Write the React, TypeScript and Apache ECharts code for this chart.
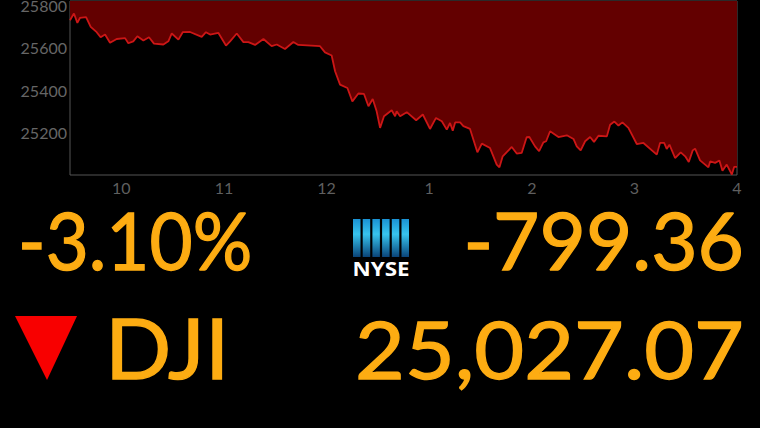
import React, { useEffect, useRef } from "react";
import * as echarts from "echarts";

const minutes = [570,572.3,574.3,575.8,579.4,582.1,585.6,587.9,590.5,593.4,597.3,602.2,604.1,607,609.4,612.9,616.2,619.1,624.6,627.5,629.5,633.4,635.9,640.2,647,649.5,651.9,656.7,661.2,663.6,667.5,671.4,674.3,678.2,683.1,687.9,690.9,695.7,700.6,703.5,716.2,719.1,723,725,727.9,732.2,735.1,738.6,741.9,744.5,747,749.3,751.3,
753.6,758.1,760.1,761,763,766.9,772.4,776.3,780.5,784,787.4,790.3,792.2,793.8,795.2,798.1,800,803.9,808.2,810.8,815.6,819.5,821.1,823,828.3,831.2,834.1,837,838.6,841.9,844.3,846.8,848.4,850.7,855.6,860.5,864.4,866.3,868.6,871.2,874.1,876.4,879,883.9,885.8,888.3,890.7,893,896.5,901.4,905.3,913.1,915,917.4,918.9,920.5,923.8,927.1,929.7,931.8,934.1,935.5,938.4,943.3,944.3,947.2,949.7,951.5,954,957,958.3,960];

const dowValues = [25729,25761,25717,25740,25744,25698,25673,25649,25662,25623,25641,25645,25621,25630,25654,25634,25649,25619,25615,25630,25667,25638,25673,25674,25651,25673,25662,25670,25610,25630,25667,25626,25626,25613,25641,25607,25615,25594,25627,25613,25607,25578,25563,25489,25426,25410,25347,25384,25382,25324,25358,25300,25222,
25277,25305,25277,25300,25277,25296,25258,25285,25217,25269,25253,25214,25245,25209,25248,25248,25230,25217,25107,25148,25127,25049,25036,25088,25132,25101,25104,25178,25179,25135,25112,25154,25159,25206,25179,25187,25170,25135,25116,25159,25179,25156,25185,25182,25237,25252,25233,25248,25222,25146,25151,25096,25151,25151,25123,25143,25080,25107,25088,25061,25116,25124,25069,25036,25064,25057,25068,25020,25049,25002,25038,25038];

const hourTicks = [600, 660, 720, 780, 840, 900, 960];
const hourLabels = ["10", "11", "12", "1", "2", "3", "4"];
const valueTicks = [25200, 25400, 25600, 25800];
const logoBars = [0, 1, 2, 3, 4, 5];

const percentText = "-3.10%";
const changeText = "-799.36";
const nameText = "DJI";
const levelText = "25,027.07";
const exchangeText = "NYSE";

const AMBER = "#fdac12";

export default function App() {
  const ref = useRef<HTMLDivElement>(null);
  useEffect(() => {
    const chart = echarts.init(ref.current!, undefined, { renderer: "svg" });
    const bigText = (text: string, x: number, y: number, align: string, scaleX: number, size: number) => ({
      type: "text",
      x,
      y,
      scaleX,
      style: {
        text,
        fill: AMBER,
        stroke: AMBER,
        lineWidth: 1.3,
        font: `${size}px Lato, sans-serif`,
        lineHeight: 62,
        align,
        verticalAlign: "middle",
      },
    });
    chart.setOption({
      animation: false,
      backgroundColor: "#000000",
      grid: {
        left: 70,
        top: 1,
        width: 667,
        height: 174,
        show: true,
        outerBoundsMode: "none",
        containLabel: false,
        borderColor: "#555555",
        borderWidth: 1,
        backgroundColor: "transparent",
      },
      xAxis: {
        type: "value",
        min: 570,
        max: 960,
        splitLine: { show: false },
        axisLine: { show: false },
        axisTick: { show: false },
        axisLabel: {
          customValues: hourTicks,
          formatter: (v: number) => hourLabels[hourTicks.indexOf(v)] ?? "",
          color: "#5f5f5f",
          fontFamily: "Lato",
          fontSize: 16,
          margin: 4,
          showMaxLabel: true,
        },
      },
      yAxis: {
        type: "value",
        min: 25000,
        max: 25820,
        splitLine: { show: false },
        axisLine: { show: false },
        axisTick: { show: false },
        axisLabel: {
          customValues: valueTicks,
          color: "#666666",
          fontFamily: "Lato",
          fontSize: 16,
          margin: 3,
          formatter: (v: number) => String(v),
        },
      },
      series: [
        {
          type: "line",
          data: minutes.map((m, i) => [m, dowValues[i]]),
          showSymbol: false,
          smooth: false,
          lineStyle: { color: "#cc1616", width: 1.8 },
          areaStyle: { color: "#630000", opacity: 1, origin: "end" },
          z: 1,
        },
      ],
      graphic: [
        bigText(percentText, 18, 239, "left", 0.93, 80),
        bigText(changeText, 744, 239, "right", 1, 80),
        bigText(nameText, 105, 347, "left", 1.05, 83),
        bigText(levelText, 744, 348, "right", 1.075, 80),
        {
          type: "polygon",
          shape: { points: [[15, 316], [77, 316], [47, 380]] },
          style: { fill: "#f80000" },
        },
        ...logoBars.map((i) => ({
          type: "rect",
          shape: { x: 353 + i * 9.7, y: 219, width: 7.5, height: 38 },
          style: {
            fill: new echarts.graphic.LinearGradient(0, 0, 0, 1, [
              { offset: 0, color: "#1a92d4" },
              { offset: 0.4, color: "#37c4ee" },
              { offset: 1, color: "#0a4478" },
            ]),
          },
        })),
        {
          type: "text",
          x: 381,
          y: 268,
          scaleX: 1.12,
          style: {
            text: exchangeText,
            fill: "#ffffff",
            font: 'bold 20px "Open Sans", sans-serif',
            align: "center",
            verticalAlign: "middle",
          },
        },
      ],
    });
    return () => chart.dispose();
  }, []);
  return (
    <div
      ref={ref}
      style={{ position: "fixed", left: 0, top: 0, width: 760, height: 428 }}
    />
  );
}
